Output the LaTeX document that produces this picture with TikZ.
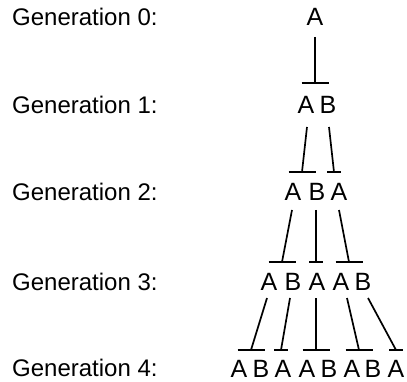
\documentclass[tikz,border=0pt]{standalone}
\usepackage{fontspec}
\setmainfont{Liberation Sans}
\begin{document}
\begin{tikzpicture}[x=1pt,y=-1pt,
  letter/.style={anchor=base,inner sep=0pt,font=\fontsize{25}{25}\selectfont},
  lbl/.style={anchor=base west,inner sep=0pt,font=\fontsize{24}{24}\selectfont},
  conn/.style={line width=1.7pt},
  wbar/.style={line width=1.7pt},
]
\useasboundingbox (0,0) rectangle (407,382);
% labels
\node[lbl] (l0) at (12,26) {Generation 0:};
\node[lbl] (l1) at (12,114) {Generation 1:};
\node[lbl] (l2) at (12,201) {Generation 2:};
\node[lbl] (l3) at (12,290) {Generation 3:};
\node[lbl] (l4) at (12,376) {Generation 4:};
% generation 0
\node[letter] (g0a) at (315,26) {A};
% generation 1
\node[letter] (g1a) at (306,114) {A};
\node[letter] (g1b) at (328,114) {B};
% generation 2
\node[letter] (g2a) at (293,201) {A};
\node[letter] (g2b) at (317,201) {B};
\node[letter] (g2c) at (339,201) {A};
% generation 3
\node[letter] (g3a) at (269,290) {A};
\node[letter] (g3b) at (293,290) {B};
\node[letter] (g3c) at (317,290) {A};
\node[letter] (g3d) at (341,290) {A};
\node[letter] (g3e) at (363,290) {B};
% generation 4
\node[letter] (g4a) at (239,377) {A};
\node[letter] (g4b) at (261,377) {B};
\node[letter] (g4c) at (283,377) {A};
\node[letter] (g4d) at (307,377) {A};
\node[letter] (g4e) at (329,377) {B};
\node[letter] (g4f) at (352,377) {A};
\node[letter] (g4g) at (373,377) {B};
\node[letter] (g4h) at (396,377) {A};
% bar centres
\coordinate (c01) at (315,83);
\coordinate (c11) at (302,172);
\coordinate (c12) at (334,172);
\coordinate (c21) at (282,262);
\coordinate (c22) at (316,262);
\coordinate (c23) at (349,262);
\coordinate (c31) at (251,350);
\coordinate (c32) at (281,350);
\coordinate (c33) at (316,350);
\coordinate (c34) at (359,350);
\coordinate (c35) at (396,350);
% connectors A -> AB (wide bar), B -> A (narrow bar)
\draw[conn] ([yshift=-11pt]g0a.base) -- (c01);
\draw[wbar] ([xshift=-13.5pt]c01) -- ([xshift=13.5pt]c01);

\draw[conn] ([xshift=1pt,yshift=-13pt]g1a.base) -- (c11);
\draw[wbar] ([xshift=-13.5pt]c11) -- ([xshift=13.5pt]c11);
\draw[conn] ([xshift=1pt,yshift=-13pt]g1b.base) -- (c12);
\draw[wbar] ([xshift=-7pt]c12) -- ([xshift=7pt]c12);

\draw[conn] ([xshift=-1pt,yshift=-9pt]g2a.base) -- (c21);
\draw[wbar] ([xshift=-13.5pt]c21) -- ([xshift=13.5pt]c21);
\draw[conn] ([xshift=-1pt,yshift=-9pt]g2b.base) -- (c22);
\draw[wbar] ([xshift=-7pt]c22) -- ([xshift=7pt]c22);
\draw[conn] ([xshift=0pt,yshift=-9pt]g2c.base) -- (c23);
\draw[wbar] ([xshift=-13.5pt]c23) -- ([xshift=13.5pt]c23);

\draw[conn] ([xshift=-2pt,yshift=-8pt]g3a.base) -- (c31);
\draw[wbar] ([xshift=-13.5pt]c31) -- ([xshift=13.5pt]c31);
\draw[conn] ([xshift=-3pt,yshift=-8pt]g3b.base) -- (c32);
\draw[wbar] ([xshift=-7pt]c32) -- ([xshift=7pt]c32);
\draw[conn] ([xshift=-1pt,yshift=-8pt]g3c.base) -- (c33);
\draw[wbar] ([xshift=-13.5pt]c33) -- ([xshift=13.5pt]c33);
\draw[conn] ([xshift=6pt,yshift=-8pt]g3d.base) -- (c34);
\draw[wbar] ([xshift=-13.5pt]c34) -- ([xshift=13.5pt]c34);
\draw[conn] ([xshift=5pt,yshift=-8pt]g3e.base) -- (c35);
\draw[wbar] ([xshift=-7pt]c35) -- ([xshift=7pt]c35);
\end{tikzpicture}
\end{document}
